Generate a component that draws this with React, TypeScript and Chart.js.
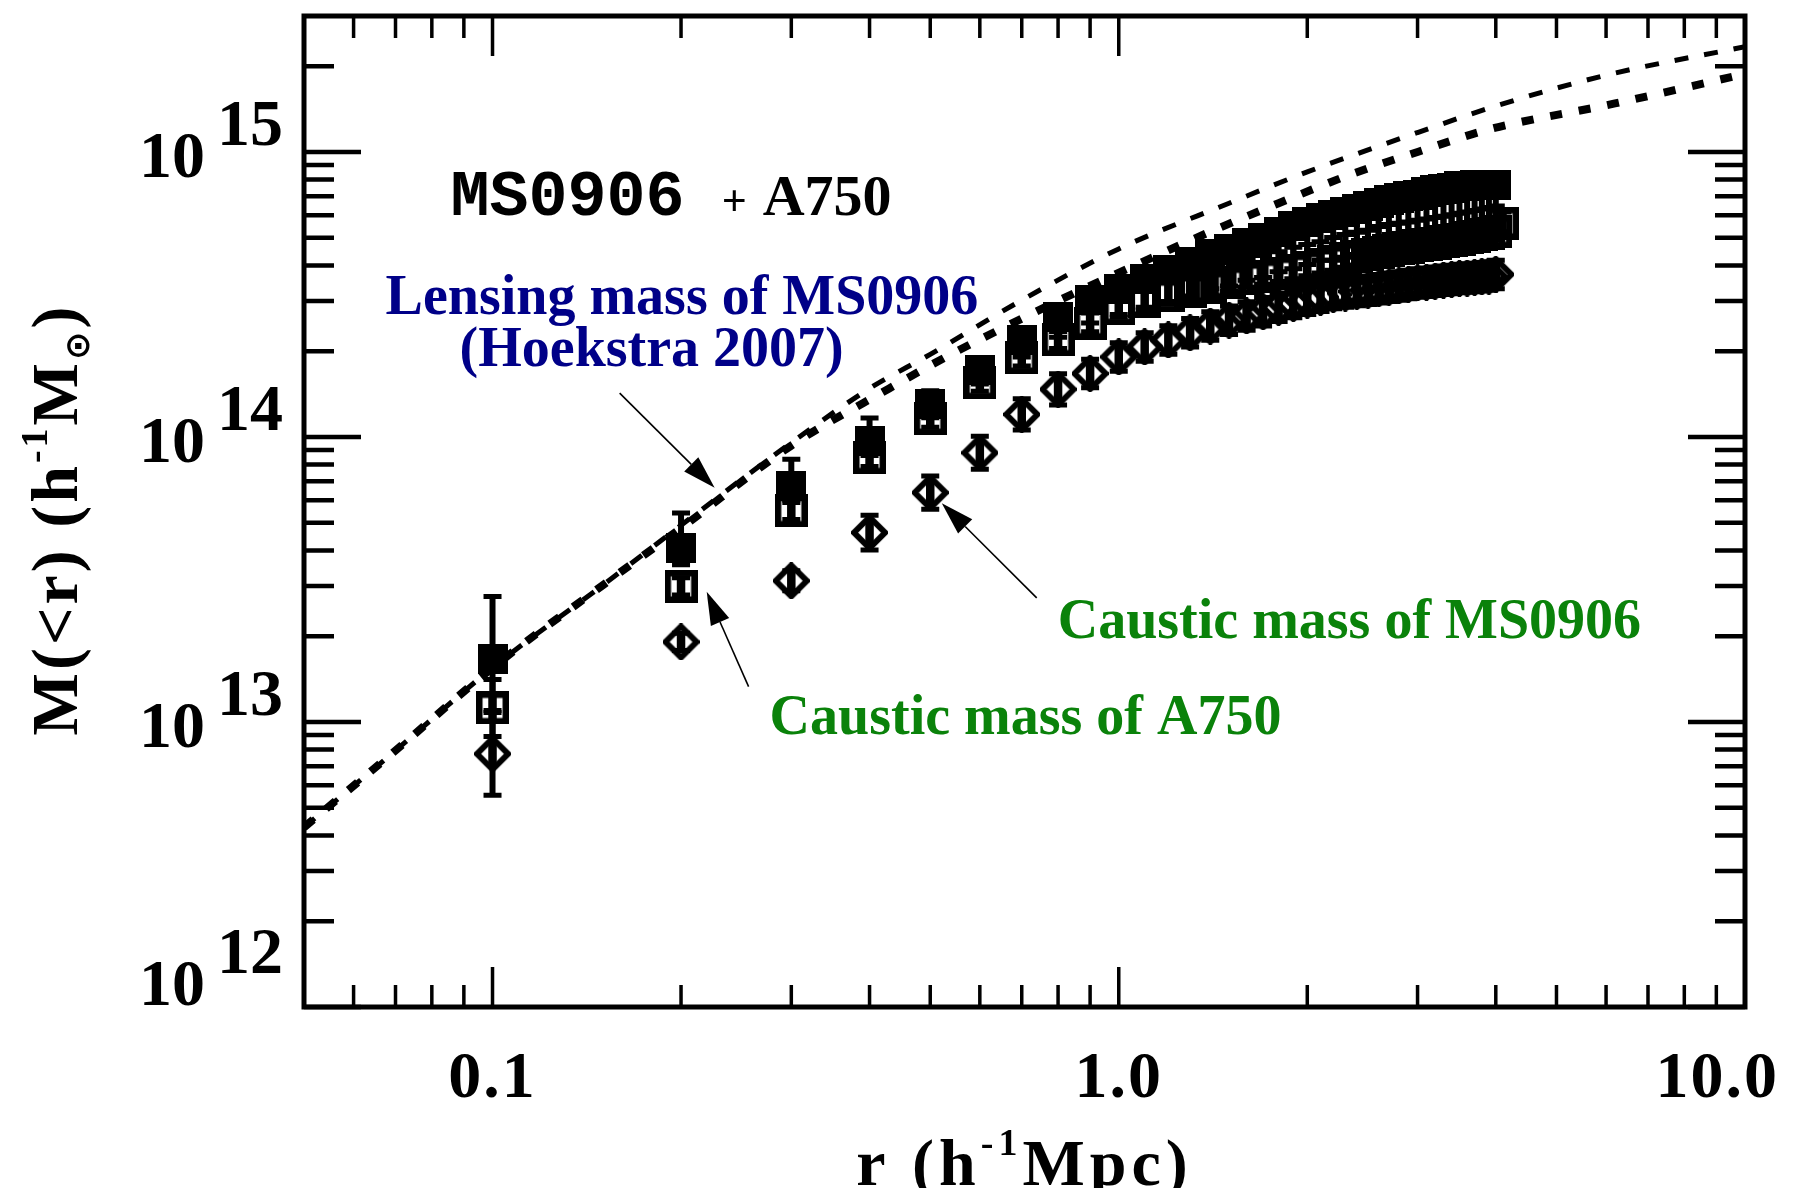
import React, { useEffect, useRef } from "react";
import { Chart, registerables } from "chart.js";

Chart.register(...registerables);

// Radial bins (h^-1 Mpc) of the caustic mass profiles
const radiusBins = [
  0.1, 0.2, 0.3, 0.4, 0.5, 0.6, 0.7, 0.8, 0.9, 1.0,
  1.1, 1.2, 1.3, 1.4, 1.5, 1.6, 1.7, 1.8, 1.9, 2.0,
  2.1, 2.2, 2.3, 2.4, 2.5, 2.6, 2.7, 2.8, 2.9, 3.0,
  3.1, 3.2, 3.3, 3.4, 3.5, 3.6, 3.7, 3.8, 3.9, 4.0,
];
const radiusBinsA750 = [
  0.1, 0.2, 0.3, 0.4, 0.5, 0.6, 0.7, 0.8, 0.9, 1.0,
  1.1, 1.2, 1.3, 1.4, 1.5, 1.6, 1.7, 1.8, 1.9, 2.0,
  2.1, 2.2, 2.3, 2.4, 2.5, 2.6, 2.7, 2.8, 2.9, 3.0,
  3.1, 3.2, 3.3, 3.4, 3.5, 3.6, 3.7, 3.8, 3.9, 4.0, 4.1,
];

// M(<r) in h^-1 M_sun: blended system (filled squares)
const massBlend = [
  1.66e13, 4.09e13, 6.73e13, 9.66e13, 1.31e14, 1.72e14, 2.19e14, 2.63e14, 3.02e14, 3.31e14,
  3.59e14, 3.85e14, 4.12e14, 4.37e14, 4.57e14, 4.79e14, 5.01e14, 5.25e14, 5.5e14, 5.69e14,
  5.89e14, 6.03e14, 6.17e14, 6.31e14, 6.46e14, 6.61e14, 6.76e14, 6.92e14, 7.0e14, 7.08e14,
  7.24e14, 7.33e14, 7.41e14, 7.5e14, 7.59e14, 7.59e14, 7.67e14, 7.67e14, 7.67e14, 7.67e14,
];
// Caustic mass of A750 (open squares)
const massA750 = [
  1.12e13, 2.99e13, 5.5e13, 8.45e13, 1.16e14, 1.55e14, 1.9e14, 2.19e14, 2.51e14, 2.82e14,
  2.99e14, 3.13e14, 3.24e14, 3.35e14, 3.47e14, 3.59e14, 3.67e14, 3.76e14, 3.85e14, 3.94e14,
  4.03e14, 4.12e14, 4.22e14, 4.3e14, 4.37e14, 4.45e14, 4.52e14, 4.57e14, 4.62e14, 4.68e14,
  4.73e14, 4.79e14, 4.84e14, 4.9e14, 4.95e14, 5.01e14, 5.07e14, 5.13e14, 5.19e14, 5.25e14, 5.62e14,
];
// Caustic mass of MS0906 (diamonds)
const massMS0906 = [
  7.73e12, 1.91e13, 3.13e13, 4.62e13, 6.38e13, 8.8e13, 1.2e14, 1.47e14, 1.67e14, 1.91e14,
  2.07e14, 2.19e14, 2.32e14, 2.45e14, 2.57e14, 2.66e14, 2.75e14, 2.85e14, 2.94e14, 3.02e14,
  3.09e14, 3.16e14, 3.2e14, 3.24e14, 3.27e14, 3.31e14, 3.35e14, 3.39e14, 3.43e14, 3.47e14,
  3.49e14, 3.52e14, 3.55e14, 3.57e14, 3.6e14, 3.61e14, 3.63e14, 3.65e14, 3.67e14, 3.72e14,
];

// Error bars, in dex
const blendErrUp = [
  0.22, 0.122, 0.094, 0.082, 0.045, 0.04, 0.035, 0.035, 0.035, 0.035,
  0.035, 0.035, 0.035, 0.035, 0.035, 0.035, 0.035, 0.035, 0.035, 0.035,
  0.035, 0.035, 0.035, 0.035, 0.035, 0.035, 0.035, 0.035, 0.035, 0.035,
  0.035, 0.035, 0.035, 0.035, 0.035, 0.035, 0.035, 0.035, 0.035, 0.035,
];
const blendErrDown = [
  0.18, 0.06, 0.05, 0.05, 0.05, 0.05, 0.06, 0.07, 0.08, 0.09,
  0.1, 0.11, 0.12, 0.12, 0.13, 0.13, 0.14, 0.14, 0.15, 0.15,
  0.15, 0.16, 0.16, 0.16, 0.16, 0.17, 0.17, 0.17, 0.17, 0.17,
  0.17, 0.17, 0.17, 0.17, 0.17, 0.17, 0.17, 0.17, 0.17, 0.17,
];
const a750ErrUp = [
  0.1, 0.03, 0.03, 0.03, 0.03, 0.03, 0.03, 0.03, 0.035, 0.04,
  0.05, 0.055, 0.06, 0.065, 0.07, 0.07, 0.075, 0.075, 0.08, 0.08,
  0.08, 0.085, 0.085, 0.085, 0.085, 0.09, 0.09, 0.09, 0.09, 0.09,
  0.09, 0.09, 0.09, 0.09, 0.09, 0.09, 0.09, 0.09, 0.09, 0.09, 0.04,
];
const a750ErrDown = [
  0.1, 0.03, 0.03, 0.03, 0.03, 0.03, 0.03, 0.03, 0.03, 0.03,
  0.03, 0.03, 0.03, 0.03, 0.03, 0.03, 0.03, 0.03, 0.03, 0.03,
  0.03, 0.03, 0.03, 0.03, 0.03, 0.03, 0.03, 0.03, 0.03, 0.03,
  0.03, 0.03, 0.03, 0.03, 0.03, 0.03, 0.03, 0.03, 0.03, 0.03, 0.03,
];
const ms0906Err = [
  0.145, 0.03, 0.035, 0.061, 0.058, 0.058, 0.055, 0.055, 0.05, 0.05,
  0.05, 0.05, 0.05, 0.05, 0.05, 0.05, 0.05, 0.05, 0.05, 0.05,
  0.05, 0.05, 0.05, 0.05, 0.05, 0.05, 0.05, 0.05, 0.05, 0.05,
  0.05, 0.05, 0.05, 0.05, 0.05, 0.05, 0.05, 0.05, 0.05, 0.05,
];

// Weak-lensing mass profiles of MS0906 (Hoekstra 2007)
const lensRadiusUpper = [0.05, 0.07, 0.1, 0.15, 0.2, 0.3, 0.4, 0.5, 0.7, 1.0, 1.5, 2.0, 3.0, 4.0, 6.0, 10.0];
const lensMassUpper = [
  4.27e12, 7.94e12, 1.55e13, 3.02e13, 4.9e13, 9.55e13, 1.48e14, 1.95e14, 3.02e14, 4.57e14,
  6.61e14, 8.51e14, 1.17e15, 1.45e15, 1.86e15, 2.34e15,
];
const lensRadiusLower = [0.05, 0.07, 0.1, 0.15, 0.2, 0.3, 0.43, 0.53, 0.65, 0.84, 1.08, 1.4, 1.8, 2.34, 3.0, 3.9, 6.2, 10.0];
const lensMassLower = [
  4.27e12, 7.94e12, 1.55e13, 3.02e13, 4.79e13, 9.33e13, 1.48e14, 1.91e14, 2.4e14, 3.16e14,
  4.07e14, 5.25e14, 6.61e14, 8.32e14, 1.0e15, 1.2e15, 1.48e15, 1.88e15,
];

// Axis ranges and ticks
const xRange = [0.05, 10];
const yRange = [1e12, 3e15];
const xMajorTicks = [0.1, 1, 10];
const xTickLabels = ["0.1", "1.0", "10.0"];
const xMinorTicks = [0.06, 0.07, 0.08, 0.09, 0.2, 0.3, 0.4, 0.5, 0.6, 0.7, 0.8, 0.9, 2, 3, 4, 5, 6, 7, 8, 9];
const yMajorTicks = [1e12, 1e13, 1e14, 1e15];
const yTickExponents = ["12", "13", "14", "15"];
const yMinorTicks = [
  2e12, 3e12, 4e12, 5e12, 6e12, 7e12, 8e12, 9e12,
  2e13, 3e13, 4e13, 5e13, 6e13, 7e13, 8e13, 9e13,
  2e14, 3e14, 4e14, 5e14, 6e14, 7e14, 8e14, 9e14,
  2e15,
];

// Text annotations, anchored at (r, M) by their left baseline
const noteTexts = ["Lensing mass of MS0906", "(Hoekstra 2007)", "Caustic mass of MS0906", "Caustic mass of A750"];
const noteColors = ["#000088", "#000088", "#0a820a", "#0a820a"];
const noteAnchorR = [0.0675, 0.0886, 0.799, 0.277];
const noteAnchorM = [2.71e14, 1.77e14, 1.975e13, 9.11e12];

// Arrows from tail to tip, in (r, M)
const arrowTailR = [0.1596, 0.2564, 0.7396];
const arrowTailM = [1.426e14, 1.33e13, 2.727e13];
const arrowTipR = [0.2263, 0.2198, 0.5217];
const arrowTipM = [6.64e13, 2.862e13, 5.86e13];

const SERIF = '"Liberation Serif", "Times New Roman", serif';
const MONO = '"Liberation Mono", "Courier New", monospace';
const SYMBOL = '"Liberation Serif", "DejaVu Sans", serif';

type Run = { text: string; size: number; dy: number; family?: string };

function setSpacing(ctx: CanvasRenderingContext2D, px: number) {
  (ctx as any).letterSpacing = `${px}px`;
}

function runsWidth(ctx: CanvasRenderingContext2D, runs: Run[]) {
  let w = 0;
  for (const r of runs) {
    ctx.font = `bold ${r.size}px ${r.family ?? SERIF}`;
    w += ctx.measureText(r.text).width;
  }
  return w;
}

function drawRuns(ctx: CanvasRenderingContext2D, runs: Run[], x: number, y: number) {
  let cx = x;
  for (const r of runs) {
    ctx.font = `bold ${r.size}px ${r.family ?? SERIF}`;
    ctx.fillText(r.text, cx, y + r.dy);
    cx += ctx.measureText(r.text).width;
  }
}

function makeMarker(kind: "filled" | "open" | "diamond") {
  const c = document.createElement("canvas");
  const g = c.getContext("2d")!;
  if (kind === "filled") {
    c.width = 30;
    c.height = 30;
    g.fillStyle = "#000";
    g.fillRect(0, 0, 30, 30);
  } else if (kind === "open") {
    c.width = 33;
    c.height = 33;
    g.strokeStyle = "#000";
    g.lineWidth = 6.5;
    g.strokeRect(3.25, 3.25, 26.5, 26.5);
  } else {
    c.width = 37;
    c.height = 37;
    g.strokeStyle = "#000";
    g.lineWidth = 6;
    g.lineJoin = "miter";
    g.beginPath();
    g.moveTo(18.5, 3);
    g.lineTo(34, 18.5);
    g.lineTo(18.5, 34);
    g.lineTo(3, 18.5);
    g.closePath();
    g.stroke();
  }
  return c;
}

const errorBars: Record<number, { up: number[]; down: number[] }> = {
  2: { up: blendErrUp, down: blendErrDown },
  3: { up: a750ErrUp, down: a750ErrDown },
  4: { up: ms0906Err, down: ms0906Err },
};

const errorBarPlugin = {
  id: "errorBars",
  afterDatasetDraw(chart: any, args: any) {
    const spec = errorBars[args.index];
    if (!spec) return;
    const { ctx, chartArea } = chart;
    const xs = chart.scales.x;
    const ys = chart.scales.y;
    const data = chart.data.datasets[args.index].data as { x: number; y: number }[];
    ctx.save();
    ctx.beginPath();
    ctx.rect(chartArea.left, chartArea.top, chartArea.right - chartArea.left, chartArea.bottom - chartArea.top);
    ctx.clip();
    ctx.strokeStyle = "#000";
    data.forEach((d, i) => {
      const px = xs.getPixelForValue(d.x);
      const py = ys.getPixelForValue(d.y);
      const yTop = ys.getPixelForValue(d.y * Math.pow(10, spec.up[i]));
      const yBot = ys.getPixelForValue(d.y / Math.pow(10, spec.down[i]));
      // stem, heavier where it crosses the symbol
      ctx.lineWidth = 6;
      ctx.beginPath();
      ctx.moveTo(px, yTop);
      ctx.lineTo(px, yBot);
      ctx.stroke();
      ctx.lineWidth = 8.5;
      ctx.beginPath();
      ctx.moveTo(px, Math.max(yTop, py - 14));
      ctx.lineTo(px, Math.min(yBot, py + 14));
      ctx.stroke();
      // caps
      ctx.lineWidth = 5;
      ctx.beginPath();
      ctx.moveTo(px - 9, yTop);
      ctx.lineTo(px + 9, yTop);
      ctx.moveTo(px - 9, yBot);
      ctx.lineTo(px + 9, yBot);
      ctx.stroke();
    });
    ctx.restore();
  },
};

const framePlugin = {
  id: "frameAndNotes",
  afterDraw(chart: any) {
    const { ctx, chartArea } = chart;
    const { left, right, top, bottom } = chartArea;
    const xs = chart.scales.x;
    const ys = chart.scales.y;
    ctx.save();
    ctx.strokeStyle = "#000";
    ctx.fillStyle = "#000";

    // frame
    ctx.lineWidth = 5;
    ctx.strokeRect(left, top, right - left, bottom - top);

    // x ticks, top and bottom
    ctx.lineWidth = 3.5;
    const xTick = (v: number, len: number) => {
      const px = xs.getPixelForValue(v);
      ctx.beginPath();
      ctx.moveTo(px, bottom);
      ctx.lineTo(px, bottom - len);
      ctx.moveTo(px, top);
      ctx.lineTo(px, top + len);
      ctx.stroke();
    };
    xMinorTicks.forEach((v) => xTick(v, 22));
    xMajorTicks.forEach((v) => xTick(v, 40));

    // y ticks, left and right
    ctx.lineWidth = 4.5;
    const yTick = (v: number, len: number) => {
      const py = ys.getPixelForValue(v);
      ctx.beginPath();
      ctx.moveTo(left, py);
      ctx.lineTo(left + len, py);
      ctx.moveTo(right, py);
      ctx.lineTo(right - len, py);
      ctx.stroke();
    };
    yMinorTicks.forEach((v) => yTick(v, 30));
    yMajorTicks.forEach((v) => yTick(v, 57));

    // x tick labels (the last one is kept inside the canvas edge)
    ctx.textBaseline = "alphabetic";
    ctx.textAlign = "center";
    setSpacing(ctx, 2);
    ctx.font = `bold 66px ${SERIF}`;
    xMajorTicks.forEach((v, i) => {
      const w = ctx.measureText(xTickLabels[i]).width;
      const cx = Math.min(xs.getPixelForValue(v), right + 34 - w / 2);
      ctx.fillText(xTickLabels[i], cx, bottom + 90);
    });

    // y tick labels 10^n
    ctx.textAlign = "right";
    setSpacing(ctx, 0);
    yMajorTicks.forEach((v, i) => {
      const py = ys.getPixelForValue(v);
      const base = Math.min(py + 25, bottom - 2);
      ctx.font = `bold 66px ${SERIF}`;
      const expRight = left - 21;
      ctx.fillText(yTickExponents[i], expRight, base - 32);
      const ew = ctx.measureText(yTickExponents[i]).width;
      ctx.fillText("10", expRight - ew - 12, base);
    });
    ctx.textAlign = "left";

    // x axis title
    setSpacing(ctx, 5);
    const xTitle: Run[] = [
      { text: "r (h", size: 66, dy: 0 },
      { text: "-1", size: 38, dy: -30 },
      { text: "Mpc)", size: 66, dy: 0 },
    ];
    const xtw = runsWidth(ctx, xTitle);
    drawRuns(ctx, xTitle, (left + right) / 2 - xtw / 2, bottom + 178);

    // y axis title (rotated)
    setSpacing(ctx, 3);
    const yTitle: Run[] = [
      { text: "M(<r) (h", size: 66, dy: 0 },
      { text: "-1", size: 38, dy: -30 },
      { text: "M", size: 66, dy: 0 },
      { text: "\u2299", size: 34, dy: 12, family: SYMBOL },
      { text: ")", size: 66, dy: 0 },
    ];
    const ytw = runsWidth(ctx, yTitle);
    ctx.save();
    ctx.translate(77, (top + bottom) / 2 + 8 + ytw / 2);
    ctx.rotate(-Math.PI / 2);
    drawRuns(ctx, yTitle, 0, 0);
    ctx.restore();

    // cluster names
    setSpacing(ctx, 0);
    const titleY = ys.getPixelForValue(6.03e14);
    ctx.font = `bold 65px ${MONO}`;
    ctx.fillText("MS0906", xs.getPixelForValue(0.0857), titleY);
    ctx.font = `bold 44px ${SERIF}`;
    ctx.fillText("+", xs.getPixelForValue(0.2323), titleY);
    ctx.font = `bold 58px ${SERIF}`;
    ctx.fillText("A750", xs.getPixelForValue(0.27), titleY);

    // notes
    ctx.font = `bold 56px ${SERIF}`;
    noteTexts.forEach((t, i) => {
      ctx.fillStyle = noteColors[i];
      ctx.fillText(t, xs.getPixelForValue(noteAnchorR[i]), ys.getPixelForValue(noteAnchorM[i]));
    });

    // arrows
    ctx.fillStyle = "#000";
    ctx.strokeStyle = "#000";
    ctx.lineWidth = 1.6;
    arrowTailR.forEach((_, i) => {
      const x0 = xs.getPixelForValue(arrowTailR[i]);
      const y0 = ys.getPixelForValue(arrowTailM[i]);
      const x1 = xs.getPixelForValue(arrowTipR[i]);
      const y1 = ys.getPixelForValue(arrowTipM[i]);
      const ang = Math.atan2(y1 - y0, x1 - x0);
      const hl = 33;
      const hw = 10;
      const bx = x1 - hl * Math.cos(ang);
      const by = y1 - hl * Math.sin(ang);
      ctx.beginPath();
      ctx.moveTo(x0, y0);
      ctx.lineTo(bx, by);
      ctx.stroke();
      ctx.beginPath();
      ctx.moveTo(x1, y1);
      ctx.lineTo(bx + hw * Math.sin(ang), by - hw * Math.cos(ang));
      ctx.lineTo(bx - hw * Math.sin(ang), by + hw * Math.cos(ang));
      ctx.closePath();
      ctx.fill();
    });

    ctx.restore();
  },
};

export default function App() {
  const ref = useRef<HTMLCanvasElement>(null);

  useEffect(() => {
    const canvas = ref.current!;
    const filled = makeMarker("filled");
    const open = makeMarker("open");
    const diamond = makeMarker("diamond");

    const pts = (xs: number[], ys: number[]) => xs.map((x, i) => ({ x, y: ys[i] }));

    const chart = new Chart(canvas, {
      type: "scatter",
      data: {
        datasets: [
          {
            label: "Lensing upper",
            data: pts(lensRadiusUpper, lensMassUpper),
            showLine: true,
            borderColor: "#000",
            borderWidth: 5,
            borderDash: [14, 16],
            borderCapStyle: "butt",
            pointRadius: 0,
            cubicInterpolationMode: "monotone",
            order: 6,
          } as any,
          {
            label: "Lensing lower",
            data: pts(lensRadiusLower, lensMassLower),
            showLine: true,
            borderColor: "#000",
            borderWidth: 8,
            borderDash: [12, 17],
            borderCapStyle: "butt",
            pointRadius: 0,
            cubicInterpolationMode: "monotone",
            order: 5,
          } as any,
          {
            label: "MS0906 + A750",
            data: pts(radiusBins, massBlend),
            pointStyle: filled,
            pointRadius: 15,
            order: 4,
          } as any,
          {
            label: "Caustic mass of A750",
            data: pts(radiusBinsA750, massA750),
            pointStyle: open,
            pointRadius: 15,
            order: 3,
          } as any,
          {
            label: "Caustic mass of MS0906",
            data: pts(radiusBins, massMS0906),
            pointStyle: diamond,
            pointRadius: 15,
            order: 2,
          } as any,
        ],
      },
      options: {
        responsive: false,
        maintainAspectRatio: false,
        devicePixelRatio: 1,
        animation: false,
        events: [],
        layout: { padding: { left: 304, right: 71, top: 14, bottom: 181 } },
        plugins: { legend: { display: false }, tooltip: { enabled: false } },
        scales: {
          x: { type: "logarithmic", min: xRange[0], max: xRange[1], display: false },
          y: { type: "logarithmic", min: yRange[0], max: yRange[1], display: false },
        },
      },
      plugins: [errorBarPlugin, framePlugin],
    });
    return () => chart.destroy();
  }, []);

  return (
    <canvas
      ref={ref}
      width={1816}
      height={1188}
      style={{ position: "fixed", left: 0, top: 0, width: 1816, height: 1188, background: "#fff" }}
    />
  );
}
